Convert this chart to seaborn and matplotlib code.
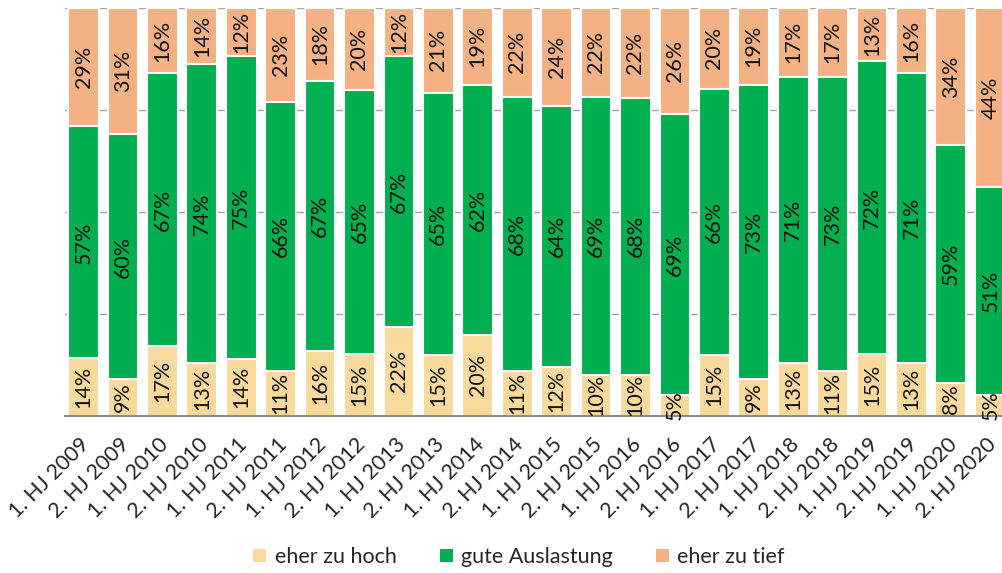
import numpy as np
import pandas as pd
import matplotlib
matplotlib.use("Agg")
import matplotlib.pyplot as plt
import matplotlib.transforms as mtransforms
import seaborn as sns
from matplotlib.patches import Patch

categories = ["1. HJ 2009", "2. HJ 2009", "1. HJ 2010", "2. HJ 2010", "1. HJ 2011", "2. HJ 2011",
              "1. HJ 2012", "2. HJ 2012", "1. HJ 2013", "2. HJ 2013", "1. HJ 2014", "2. HJ 2014",
              "1. HJ 2015", "2. HJ 2015", "1. HJ 2016", "2. HJ 2016", "1. HJ 2017", "2. HJ 2017",
              "1. HJ 2018", "2. HJ 2018", "1. HJ 2019", "2. HJ 2019", "1. HJ 2020", "2. HJ 2020"]
zu_hoch = [14, 9, 17, 13, 14, 11, 16, 15, 22, 15, 20, 11, 12, 10, 10, 5, 15, 9, 13, 11, 15, 13, 8, 5]
gute = [57, 60, 67, 74, 75, 66, 67, 65, 67, 65, 62, 68, 64, 69, 68, 69, 66, 73, 71, 73, 72, 71, 59, 51]
zu_tief = [29, 31, 16, 14, 12, 23, 18, 20, 12, 21, 19, 22, 24, 22, 22, 26, 20, 19, 17, 17, 13, 16, 34, 44]
series_names = ["eher zu hoch", "gute Auslastung", "eher zu tief"]
colors = ["#F9DA9C", "#00B050", "#F4B183"]

sns.set_theme(style="white")
plt.rcParams["font.family"] = ["Lato", "DejaVu Sans"]

df = pd.DataFrame({"cat": categories, "low": zu_hoch, "mid": gute, "high": zu_tief})
tot = df[["low", "mid", "high"]].sum(axis=1)
df["s_low"] = df["low"] / tot * 100
df["s_mid"] = df["mid"] / tot * 100
df["s_high"] = df["high"] / tot * 100
df["c1"] = df["s_low"]
df["c2"] = df["s_low"] + df["s_mid"]
df["c3"] = df["c2"] + df["s_high"]

fig = plt.figure(figsize=(10.02, 5.73), dpi=100)
ax = fig.add_axes([65 / 1002, (573 - 415.5) / 573, (1010 - 65) / 1002, (415.5 - 8) / 573])

for col, color in zip(["c3", "c2", "c1"], colors[::-1]):
    sns.barplot(data=df, x="cat", y=col, color=color, width=0.78, edgecolor="white",
                linewidth=1.5, saturation=1, ax=ax, zorder=2)

ax.set_xlim(-0.47, len(categories) - 0.5)
ax.set_ylim(0, 100)
ax.set_yticks([25, 50, 75, 100])
ax.yaxis.grid(True, color="#A6A6A6", linewidth=1, zorder=0)
ax.set_axisbelow(True)
ax.tick_params(axis="y", left=False, labelleft=False)
ax.set_ylabel("")
ax.set_xlabel("")
for s in ["left", "right", "top"]:
    ax.spines[s].set_visible(False)
ax.spines["bottom"].set_color("#8C8C8C")
ax.spines["bottom"].set_linewidth(1.5)

x = np.arange(len(categories))
lab_fs = 15.5
for i in x:
    ax.text(i, df["s_low"][i] / 2, f"{zu_hoch[i]}%", rotation=90, ha="center", va="center",
            fontsize=lab_fs, color="#111111", zorder=5, clip_on=False)
    ax.text(i, df["c1"][i] + df["s_mid"][i] / 2, f"{gute[i]}%", rotation=90, ha="center",
            va="center", fontsize=lab_fs, color="#111111", zorder=5)
    ax.text(i, df["c2"][i] + df["s_high"][i] / 2, f"{zu_tief[i]}%", rotation=90, ha="center",
            va="center", fontsize=lab_fs, color="#111111", zorder=5)

ax.set_xticks(x)
ax.set_xticklabels(categories, rotation=45, ha="right", va="top", rotation_mode="anchor",
                   fontsize=15.5)
ax.tick_params(axis="x", bottom=False, pad=7.5)
offset = mtransforms.ScaledTranslation(-4 / 100, 0, fig.dpi_scale_trans)
for lbl in ax.get_xticklabels():
    lbl.set_transform(lbl.get_transform() + offset)

handles = [Patch(facecolor=c, edgecolor="none") for c in colors]
fig.legend(handles, series_names, loc="center", bbox_to_anchor=(519 / 1002, 1 - 557 / 573),
           ncol=3, frameon=False, fontsize=15.5, handlelength=0.6, handleheight=0.6,
           handletextpad=0.4, columnspacing=2.0)

fig.savefig("out.png", dpi=100)
